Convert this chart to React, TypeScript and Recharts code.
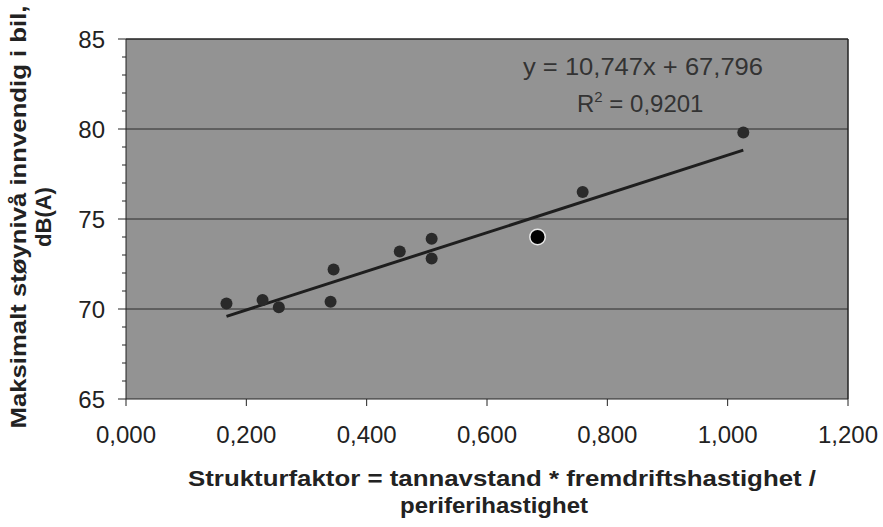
import React from 'react';
import {
  ScatterChart,
  Scatter,
  XAxis,
  YAxis,
  CartesianGrid,
  ReferenceLine,
} from 'recharts';

// Strukturfaktor (x) og maksimalt støynivå (y), lest av figuren
const strukturfaktor = [0.167, 0.227, 0.254, 0.34, 0.345, 0.455, 0.508, 0.508, 0.759, 1.026];
const stoynivaa = [70.3, 70.5, 70.1, 70.4, 72.2, 73.2, 73.9, 72.8, 76.5, 79.8];

// punktet som er tegnet litt større og mørkere
const uthevetX = [0.684];
const uthevetY = [74.0];

// trendlinje fra Excel
const stigning = 10.747;
const konstant = 67.796;

const xTicks = [0, 0.2, 0.4, 0.6, 0.8, 1.0, 1.2];
const yTicks = [65, 66, 67, 68, 69, 70, 71, 72, 73, 74, 75, 76, 77, 78, 79, 80, 81, 82, 83, 84, 85];
const gridLinjer = [70, 75, 80];

const punkter = strukturfaktor.map((x, i) => ({ x, y: stoynivaa[i] }));
const uthevet = uthevetX.map((x, i) => ({ x, y: uthevetY[i] }));
const xMin = Math.min(...strukturfaktor);
const xMax = Math.max(...strukturfaktor);
const trend = [
  { x: xMin, y: stigning * xMin + konstant },
  { x: xMax, y: stigning * xMax + konstant },
];

const FONT = '"Liberation Sans", Arial, sans-serif';

// y-aksen: store merker hver 5. dB, små merker hver 1 dB
const YTick = (props: any) => {
  const { x, y, payload } = props;
  const major = payload.value % 5 === 0;
  const akse = x + 8;
  return (
    <g>
      <line x1={akse - (major ? 8 : 4)} x2={akse} y1={y} y2={y} stroke="#222" strokeWidth={1} />
      {major && (
        <text x={akse - 21} y={y} dy={8.5} textAnchor="end" fontSize={24} fill="#222" fontFamily={FONT}>
          {payload.value}
        </text>
      )}
    </g>
  );
};

const Prikk = (props: any) => {
  const { cx, cy } = props;
  return <circle cx={cx} cy={cy} r={6} fill="#2a2a2a" />;
};

const StorPrikk = (props: any) => {
  const { cx, cy } = props;
  return (
    <g>
      <circle cx={cx} cy={cy} r={8.5} fill="#e8e8e8" />
      <circle cx={cx} cy={cy} r={7} fill="#000000" />
    </g>
  );
};

export default function App() {
  return (
    <div style={{ position: 'absolute', left: 0, top: 0, width: 883, height: 527, background: '#fff' }}>
      <ScatterChart
        width={883}
        height={527}
        margin={{ top: 39, right: 35, bottom: 0, left: 0 }}
      >
        <CartesianGrid horizontal={false} vertical={false} fill="#939393" />
        <XAxis
          type="number"
          dataKey="x"
          domain={[0, 1.2]}
          ticks={xTicks}
          interval={0}
          height={128}
          tickSize={7}
          stroke="#222"
          tick={{ fontSize: 24, fill: '#222', fontFamily: FONT, dy: 18 }}
          tickFormatter={(v: number) => v.toFixed(3).replace('.', ',')}
        />
        <YAxis
          type="number"
          dataKey="y"
          domain={[65, 85]}
          ticks={yTicks}
          interval={0}
          width={126}
          stroke="#222"
          tickLine={false}
          tick={<YTick />}
        />
        {gridLinjer.map((v) => (
          <ReferenceLine key={v} y={v} stroke="#2a2a2a" strokeWidth={1} />
        ))}
        <ReferenceLine y={85} stroke="#222" strokeWidth={1.5} />
        <ReferenceLine x={1.2} stroke="#222" strokeWidth={1.5} />
        <Scatter
          data={trend}
          line={{ stroke: '#1e1e1e', strokeWidth: 3 }}
          shape={() => null}
          isAnimationActive={false}
        />
        <Scatter data={punkter} shape={<Prikk />} isAnimationActive={false} />
        <Scatter data={uthevet} shape={<StorPrikk />} isAnimationActive={false} />
      </ScatterChart>
      <svg
        width={883}
        height={527}
        style={{ position: 'absolute', left: 0, top: 0, pointerEvents: 'none' }}
        fontFamily={FONT}
      >
        <text x={643} y={75} textAnchor="middle" fontSize={24} fill="#333" textLength={240} lengthAdjust="spacingAndGlyphs">
          y = 10,747x + 67,796
        </text>
        <text x={577} y={112} fontSize={24} fill="#333">
          R<tspan dy={-10} fontSize={15}>2</tspan>
          <tspan dy={10}> = 0,9201</tspan>
        </text>
        <g transform="translate(26, 217) rotate(-90)">
          <text x={0} y={0} textAnchor="middle" fontSize={22} fontWeight="bold" fill="#222" textLength={423} lengthAdjust="spacingAndGlyphs">
            Maksimalt støynivå innvendig i bil,
          </text>
          <text x={0} y={25} textAnchor="middle" fontSize={22} fontWeight="bold" fill="#222">
            dB(A)
          </text>
        </g>
        <text x={502} y={486} textAnchor="middle" fontSize={22} fontWeight="bold" fill="#222" textLength={628} lengthAdjust="spacingAndGlyphs">
          Strukturfaktor = tannavstand * fremdriftshastighet /
        </text>
        <text x={494} y={513} textAnchor="middle" fontSize={22} fontWeight="bold" fill="#222" textLength={188} lengthAdjust="spacingAndGlyphs">
          periferihastighet
        </text>
      </svg>
    </div>
  );
}
